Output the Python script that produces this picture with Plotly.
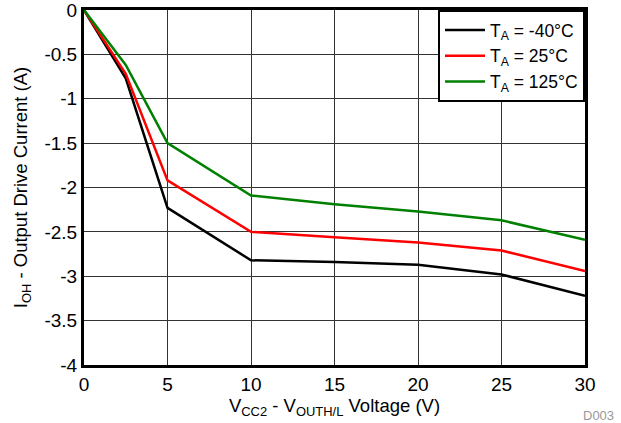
import plotly.graph_objects as go

voltage = [0, 2.5, 5, 10, 15, 20, 25, 30]
i_m40 = [0, -0.77, -2.23, -2.82, -2.84, -2.87, -2.98, -3.22]
i_25 = [0, -0.72, -1.92, -2.50, -2.56, -2.62, -2.71, -2.94]
i_125 = [0, -0.62, -1.50, -2.09, -2.19, -2.27, -2.37, -2.59]
names = ["T<sub>A</sub> = -40°C", "T<sub>A</sub> = 25°C", "T<sub>A</sub> = 125°C"]
colors = ["#000000", "#ff0000", "#008000"]

fig = go.Figure()
for ys, nm, c in zip([i_m40, i_25, i_125], names, colors):
    fig.add_trace(go.Scatter(x=voltage, y=ys, mode="lines", name=nm,
                             line=dict(color=c, width=2.5)))

font = "Liberation Sans, Arial, sans-serif"
fig.update_layout(
    width=621, height=423,
    margin=dict(l=84, r=36, t=10, b=58, autoexpand=False),
    paper_bgcolor="white", plot_bgcolor="white",
    font=dict(family=font, size=19, color="black"),
    showlegend=True,
    legend=dict(x=1, y=1, xanchor="right", yanchor="top",
                bordercolor="black", borderwidth=2, bgcolor="white",
                font=dict(size=17.5), tracegroupgap=0, itemwidth=40),
    xaxis=dict(range=[0, 30], tickvals=[0, 5, 10, 15, 20, 25, 30],
               showgrid=True, gridcolor="#333333", gridwidth=1,
               showline=True, linecolor="black", linewidth=3, mirror=True,
               zeroline=False, ticks="", ticklen=0, automargin=False,
               ticklabeloverflow="allow", tickfont=dict(size=19),
               title=dict(text="V<sub>CC2</sub> - V<sub>OUTH/L</sub> Voltage (V)",
                          standoff=3, font=dict(size=18.5))),
    yaxis=dict(range=[-4, 0], tickvals=[0, -0.5, -1, -1.5, -2, -2.5, -3, -3.5, -4],
               ticktext=["0", "-0.5", "-1", "-1.5", "-2", "-2.5", "-3", "-3.5", "-4"],
               showgrid=True, gridcolor="#333333", gridwidth=1,
               showline=True, linecolor="black", linewidth=3, mirror=True,
               zeroline=False, ticks="", ticklen=0, automargin=False,
               ticklabeloverflow="allow", tickfont=dict(size=19),
               title=dict(text="I<sub>OH</sub> - Output Drive Current (A)",
                          standoff=12, font=dict(size=18.5))),
)
fig.add_annotation(text="D003", x=1, y=0, xref="paper", yref="paper",
                   xanchor="right", yanchor="top", xshift=31, yshift=-41,
                   showarrow=False, font=dict(size=13, color="#999999"))

fig.write_html("out.html", config={"displayModeBar": False},
               post_script="document.body.style.margin='0';")
